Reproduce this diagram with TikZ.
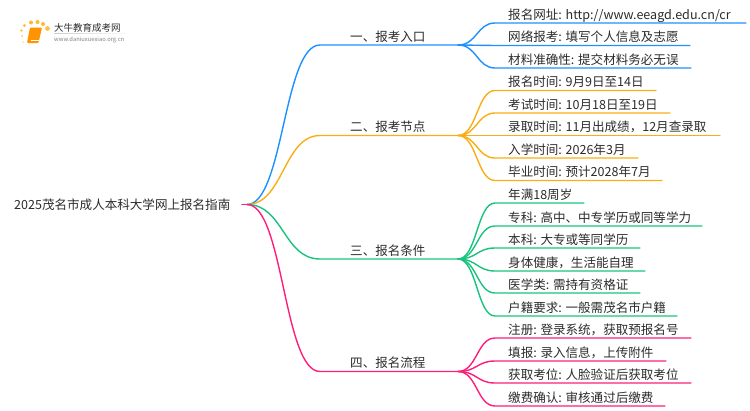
\documentclass[tikz,border=0pt]{standalone}
\usepackage{fontspec}
\setmainfont{Noto Sans CJK SC}
\definecolor{cblue}{HTML}{1E90FF}
\definecolor{corange}{HTML}{FAAD14}
\definecolor{cgreen}{HTML}{19C37D}
\definecolor{cpink}{HTML}{FF1D7C}
\definecolor{ctext}{HTML}{2B2B2B}
\tikzset{
  label text/.style={anchor=base west,inner sep=0pt,text=ctext,font=\fontsize{12.55pt}{14pt}\selectfont},
  link/.style={line width=1.4pt,line cap=round}
}
% name, y of line, x of line end, colour, branch name, text
\newcommand{\leafitem}[6]{%
  \node[label text] (#1) at (508,#2-4) {#6};
  \coordinate (#1s) at (495,#2);
  \coordinate (#1e) at (#3,#2);
  \draw[link,#4] (#5e) .. controls (477,\yb) and (477,#2) .. (#1s) -- (#1e);
}
\newcommand{\branchitem}[4]{%
  \node[label text] (#1) at (350,#2-4) {#4};
  \coordinate (#1s) at (320,#2);
  \coordinate (#1e) at (458,#2);
  \draw[link,#3] (rootout) .. controls (283.5,204.5) and (283.5,#2) .. (#1s) -- (#1e);
}
\begin{document}
\begin{tikzpicture}[x=1pt,y=-1pt]
\useasboundingbox (0,0) rectangle (750,410);
% logo
\foreach \px/\py/\pr/\pc in {23/42/0.9/FFD98A,22/36/1.1/FFD070,21.5/30.5/1.4/FFC850,24.5/25.5/1.7/FFC03A,31/22.5/2/FFB92A,37.5/22/2/FFB92A,43/24/2/FFB92A,47.5/28.5/2.4/FFC03A}{
  \definecolor{tmpc}{HTML}{\pc}
  \fill[tmpc] (\px,\py) circle (\pr);
}
\fill[orange!85!yellow,rounded corners=1pt] (30,27.5) -- (42,27.5) -- (38.5,43) -- (27,43) -- cycle;
\draw[white,line width=0.5pt] (30.5,40) -- (38.5,40);
\shade[left color=gray!40,right color=white,draw=none] (54,33) rectangle (132,33.6);
\node[anchor=base west,inner sep=0pt,text=ctext,font=\fontsize{9.5pt}{10pt}\selectfont] (logotitle) at (54,31.5) {大牛教育成考网};
\node[anchor=base west,inner sep=0pt,text=gray,font=\fontsize{5.8pt}{6pt}\selectfont] (logourl) at (54,41) {www.daniuxuexiao.org.cn};
% root
\node[label text] (root) at (14,209.5) {2025茂名市成人本科大学网上报名指南};
\coordinate (rootout) at (247,204.5);
\coordinate (rootin) at (242,204.5);
% branches
\branchitem{a}{45}{cblue}{一、报考入口}
\branchitem{b}{135.5}{corange}{二、报考节点}
\branchitem{c}{259}{cgreen}{三、报名条件}
\branchitem{d}{371.5}{cpink}{四、报名流程}
\draw[link,cpink] (rootin) -- (rootout);
% leaves
\def\yb{45}
\leafitem{a1}{23}{746}{cblue}{a}{报名网址: http://www.eeagd.edu.cn/cr}
\leafitem{a2}{45.5}{690}{cblue}{a}{网络报考: 填写个人信息及志愿}
\leafitem{a3}{68}{691}{cblue}{a}{材料准确性: 提交材料务必无误}
\def\yb{135.5}
\leafitem{b1}{90.5}{656}{corange}{b}{报名时间: 9月9日至14日}
\leafitem{b2}{113}{670}{corange}{b}{考试时间: 10月18日至19日}
\leafitem{b3}{135.5}{720}{corange}{b}{录取时间: 11月出成绩，12月查录取}
\leafitem{b4}{158}{638}{corange}{b}{入学时间: 2026年3月}
\leafitem{b5}{180.5}{662}{corange}{b}{毕业时间: 预计2028年7月}
\def\yb{259}
\leafitem{c1}{203}{584}{cgreen}{c}{年满18周岁}
\leafitem{c2}{226}{702}{cgreen}{c}{专科: 高中、中专学历或同等学力}
\leafitem{c3}{248}{640}{cgreen}{c}{本科: 大专或等同学历}
\leafitem{c4}{271}{645}{cgreen}{c}{身体健康，生活能自理}
\leafitem{c5}{293}{640}{cgreen}{c}{医学类: 需持有资格证}
\leafitem{c6}{316}{677}{cgreen}{c}{户籍要求: 一般需茂名市户籍}
\def\yb{371.5}
\leafitem{d1}{338}{691}{cpink}{d}{注册: 登录系统，获取预报名号}
\leafitem{d2}{361}{666}{cpink}{d}{填报: 录入信息，上传附件}
\leafitem{d3}{383}{691}{cpink}{d}{获取考位: 人脸验证后获取考位}
\leafitem{d4}{406}{665}{cpink}{d}{缴费确认: 审核通过后缴费}
\end{tikzpicture}
\end{document}
